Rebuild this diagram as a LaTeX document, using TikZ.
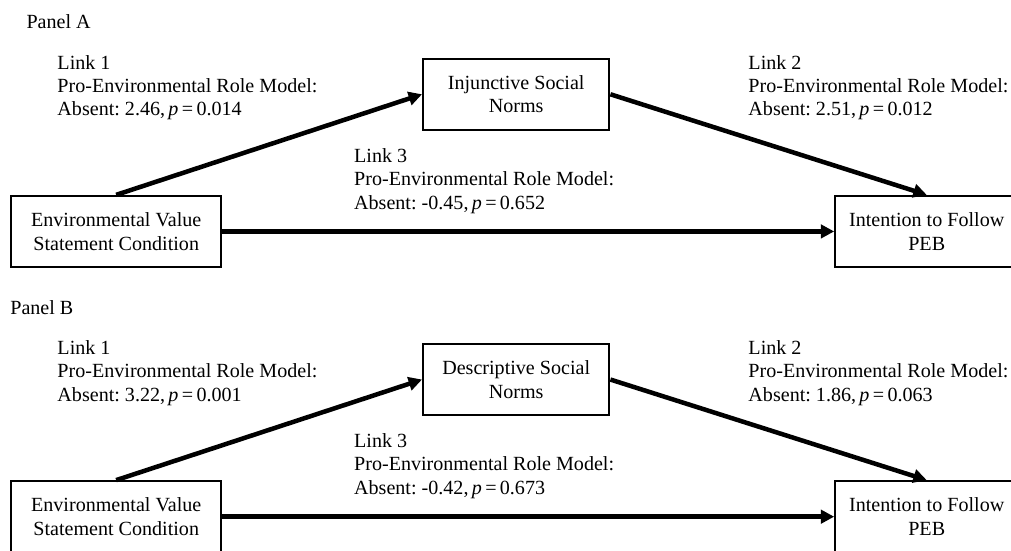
\documentclass[tikz,border=0pt]{standalone}
\usepackage{fontspec}
\setmainfont{Liberation Serif}
\usetikzlibrary{arrows.meta}
\frenchspacing

\begin{document}
\begin{tikzpicture}[
  box/.style = {rectangle, draw=black, line width=1.3pt,
                minimum height=1.49cm, inner sep=0pt,
                align=center, font=\fontsize{12}{14}\selectfont},
  lbl/.style = {anchor=north west, inner sep=0pt,
                align=left, font=\fontsize{12}{14}\selectfont},
  arr/.style = {-{Triangle[length=8pt,width=8pt]}, line width=2.7pt}
]
\useasboundingbox (0,0) rectangle (21.23,11.55);

\node[lbl] (pa) at (0.55,11.26) {Panel A};
\node[box, minimum width=4.41cm] (ea) at (2.44,6.69) {Environmental Value\\Statement Condition};
\node[box, minimum width=3.91cm] (na) at (10.84,9.57) {Injunctive Social\\Norms};
\node[box, minimum width=3.84cm] (ia) at (19.46,6.69) {Intention to Follow\\PEB};
\node[lbl] (la1) at (1.20,10.40) {Link 1\\Pro-Environmental Role Model:\\Absent: 2.46,\,\textit{p}\,=\,0.014};
\node[lbl] (la2) at (15.71,10.40) {Link 2\\Pro-Environmental Role Model:\\Absent: 2.51,\,\textit{p}\,=\,0.012};
\node[lbl] (la3) at (7.43,8.44) {Link 3\\Pro-Environmental Role Model:\\Absent: -0.45,\,\textit{p}\,=\,0.652};
\draw[arr] (ea.north) -- (na.west);
\draw[arr] (na.east) -- (ia.north);
\draw[arr] (ea.east) -- (ia.west);

\node[lbl] (pb) at (0.21,5.25) {Panel B};
\node[box, minimum width=4.41cm] (eb) at (2.44,0.70) {Environmental Value\\Statement Condition};
\node[box, minimum width=3.91cm] (nb) at (10.84,3.58) {Descriptive Social\\Norms};
\node[box, minimum width=3.84cm] (ib) at (19.46,0.70) {Intention to Follow\\PEB};
\node[lbl] (lb1) at (1.20,4.41) {Link 1\\Pro-Environmental Role Model:\\Absent: 3.22,\,\textit{p}\,=\,0.001};
\node[lbl] (lb2) at (15.71,4.41) {Link 2\\Pro-Environmental Role Model:\\Absent: 1.86,\,\textit{p}\,=\,0.063};
\node[lbl] (lb3) at (7.43,2.46) {Link 3\\Pro-Environmental Role Model:\\Absent: -0.42,\,\textit{p}\,=\,0.673};
\draw[arr] (eb.north) -- (nb.west);
\draw[arr] (nb.east) -- (ib.north);
\draw[arr] (eb.east) -- (ib.west);
\end{tikzpicture}
\end{document}
